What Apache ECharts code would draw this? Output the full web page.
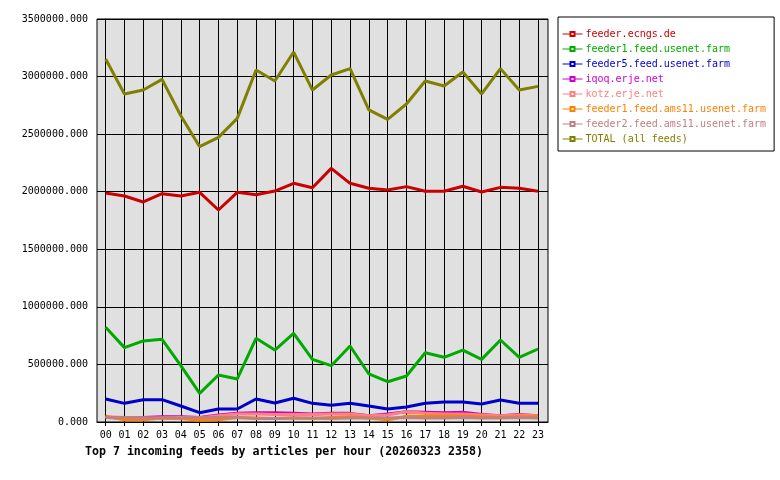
<!DOCTYPE html>
<html>
<head>
<meta charset="utf-8">
<title>Top 7 incoming feeds</title>
<script src="https://cdn.jsdelivr.net/npm/echarts@6/dist/echarts.min.js"></script>
<style>
    html, body { margin: 0; padding: 0; background: #fff; }
    #main { width: 780px; height: 480px; }
</style>
</head>
<body>
<div id="main"></div>
<script>
'use strict';

// hours of the day (x axis)
var hours = ['00', '01', '02', '03', '04', '05', '06', '07', '08', '09', '10', '11',
    '12', '13', '14', '15', '16', '17', '18', '19', '20', '21', '22', '23'];

// articles per hour, one array per feed
var ecngs = [1988000, 1963000, 1911000, 1983000, 1963000, 1995000, 1841000, 1995000, 1974000, 2006000, 2073000, 2035000,
    2203000, 2073000, 2030000, 2015000, 2044000, 2004000, 2004000, 2047000, 1998000, 2038000, 2030000, 2004000];
var feed1Usenet = [822000, 646000, 704000, 718000, 490000, 249000, 408000, 374000, 727000, 625000, 770000, 544000,
    489000, 660000, 417000, 350000, 400000, 602000, 562000, 625000, 544000, 712000, 562000, 634000];
var feed5Usenet = [200000, 162000, 194000, 194000, 139000, 81000, 113000, 113000, 200000, 165000, 206000, 162000,
    145000, 162000, 139000, 113000, 130000, 162000, 174000, 174000, 156000, 191000, 162000, 162000];
var iqoq = [40000, 35000, 40000, 45000, 45000, 40000, 60000, 75000, 80000, 80000, 75000, 70000,
    75000, 75000, 55000, 70000, 90000, 85000, 80000, 85000, 65000, 55000, 65000, 55000];
var kotz = [45000, 40000, 35000, 35000, 40000, 35000, 55000, 70000, 70000, 65000, 65000, 65000,
    70000, 70000, 55000, 60000, 90000, 75000, 70000, 70000, 60000, 55000, 60000, 55000];
var feed1Ams11 = [50000, 20000, 20000, 35000, 30000, 15000, 20000, 40000, 35000, 30000, 35000, 30000,
    40000, 45000, 35000, 20000, 50000, 50000, 50000, 50000, 45000, 40000, 45000, 45000];
var feed2Ams11 = [40000, 40000, 35000, 35000, 35000, 40000, 40000, 40000, 30000, 30000, 35000, 35000,
    30000, 35000, 35000, 35000, 40000, 35000, 35000, 40000, 35000, 35000, 40000, 35000];
var total = [3153000, 2849000, 2883000, 2976000, 2660000, 2391000, 2472000, 2637000, 3057000, 2962000, 3213000, 2883000,
    3014000, 3069000, 2710000, 2629000, 2762000, 2962000, 2918000, 3040000, 2849000, 3069000, 2883000, 2915000];

// y axis ticks
var yTicks = [0, 500000, 1000000, 1500000, 2000000, 2500000, 3000000, 3500000];

var FONT = '"DejaVu Sans Mono", monospace';

var feeds = [
    { name: 'feeder.ecngs.de', color: '#cc0000', values: ecngs },
    { name: 'feeder1.feed.usenet.farm', color: '#00aa00', values: feed1Usenet },
    { name: 'feeder5.feed.usenet.farm', color: '#0000cc', values: feed5Usenet },
    { name: 'iqoq.erje.net', color: '#cc00cc', values: iqoq },
    { name: 'kotz.erje.net', color: '#ff8080', values: kotz },
    { name: 'feeder1.feed.ams11.usenet.farm', color: '#ff8000', values: feed1Ams11 },
    { name: 'feeder2.feed.ams11.usenet.farm', color: '#c08080', values: feed2Ams11 },
    { name: 'TOTAL (all feeds)', color: '#808000', values: total }
];

var hourIdx = hours.map(function (h, i) { return i; });

var series = feeds.map(function (f) {
    return {
        name: f.name,
        type: 'line',
        data: f.values.map(function (v, i) { return [i, v]; }),
        symbol: 'emptyRect',
        symbolSize: 4,
        showSymbol: false,
        animation: false,
        silent: true,
        lineStyle: { color: f.color, width: 3 },
        itemStyle: { color: f.color }
    };
});

var chart = echarts.init(document.getElementById('main'));

chart.setOption({
    animation: false,
    title: {
        text: 'Top 7 incoming feeds by articles per hour (20260323 2358)',
        left: 85,
        top: 446,
        padding: 0,
        textStyle: { fontFamily: FONT, fontSize: 11.6, fontWeight: 'bold', color: '#000' }
    },
    legend: {
        orient: 'vertical',
        left: 558,
        top: 17,
        padding: [12, 8, 7, 4],
        itemGap: 5,
        itemWidth: 20,
        itemHeight: 5,
        borderColor: '#000',
        borderWidth: 1,
        borderRadius: 0,
        backgroundColor: '#fff',
        selectedMode: false,
        lineStyle: { width: 1 },
        itemStyle: { borderWidth: 1 },
        textStyle: { fontFamily: FONT, fontSize: 10, padding: [0, 0, 0, -2] },
        data: feeds.map(function (f) {
            return { name: f.name, textStyle: { color: f.color } };
        })
    },
    grid: {
        left: 97,
        right: 232,
        top: 19,
        bottom: 58,
        show: true,
        backgroundColor: '#e0e0e0',
        borderColor: '#000',
        borderWidth: 1
    },
    xAxis: {
        type: 'value',
        min: -0.46,
        max: 23.53,
        axisLine: { show: true, lineStyle: { color: '#000', width: 1 } },
        axisTick: { show: true, length: 4, customValues: hourIdx, lineStyle: { color: '#000' } },
        axisLabel: {
            customValues: hourIdx,
            margin: 8,
            fontFamily: FONT,
            fontSize: 10,
            color: '#000',
            formatter: function (v) { return hours[Math.round(v)]; }
        },
        splitLine: { show: true, lineStyle: { color: '#000', width: 1 } }
    },
    yAxis: {
        type: 'value',
        min: yTicks[0],
        max: yTicks[yTicks.length - 1],
        interval: yTicks[1] - yTicks[0],
        axisLine: { show: true, lineStyle: { color: '#000', width: 1 } },
        axisTick: { show: true, length: 5, lineStyle: { color: '#000' } },
        axisLabel: {
            margin: 9,
            fontFamily: FONT,
            fontSize: 10,
            color: '#000',
            formatter: function (v) { return v.toFixed(3); }
        },
        splitLine: { show: true, lineStyle: { color: '#000', width: 1 } }
    },
    series: series
});
</script>
</body>
</html>
